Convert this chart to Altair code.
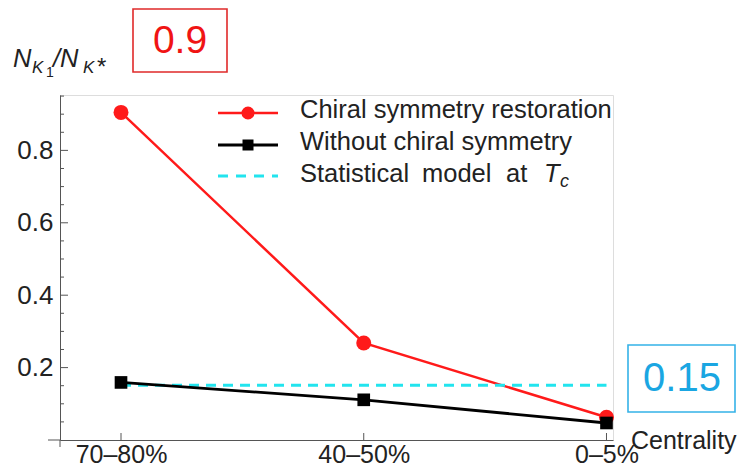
import altair as alt
import pandas as pd

# ---- data ----
categories = ["70–80%", "40–50%", "0–5%"]
chiral_restoration = [0.905, 0.268, 0.063]
without_chiral = [0.159, 0.111, 0.047]
statistical_tc = 0.151
y_major_ticks = [0.2, 0.4, 0.6, 0.8]
y_minor_ticks = [0.05, 0.1, 0.15, 0.25, 0.3, 0.35, 0.45, 0.5, 0.55, 0.65, 0.7, 0.75, 0.85, 0.9, 0.95]

FONT = "Liberation Sans"
RED = "#ff1a1a"
CYAN = "#22e4ee"
AXC = "#555555"
FS = 25.5

idx = list(range(len(categories)))
df = pd.DataFrame({"idx": idx, "cat": categories,
                   "chiral": chiral_restoration, "without": without_chiral})
df_stat = pd.DataFrame({"x0": [idx[0]], "x1": [idx[-1]], "y": [statistical_tc]})
df_major = pd.DataFrame({"v": y_major_ticks})
df_minor = pd.DataFrame({"v": y_minor_ticks})
one = pd.DataFrame({"a": [0]})

label_expr = "[" + ",".join("'" + c + "'" for c in categories) + "][datum.value]"

xscale = alt.Scale(domain=[-0.2513, 2.0268], nice=False, zero=False)
yscale = alt.Scale(domain=[0, 0.953], nice=False, zero=False)

X = alt.X("idx:Q", scale=xscale,
          axis=alt.Axis(values=idx, labelExpr=label_expr, ticks=False, grid=False,
                        title=None, labelFontSize=25, labelBaseline="alphabetic",
                        labelPadding=22, labelColor="#222",
                        labelFont=FONT, domainColor=AXC, domainWidth=1))
Y = alt.Y("chiral:Q", scale=yscale,
          axis=alt.Axis(values=y_major_ticks, format=".1f", ticks=False, grid=False,
                        title=None, labelFontSize=26, labelPadding=7, labelColor="#222",
                        labelFont=FONT, domainColor=AXC, domainWidth=1))

base = alt.Chart(df)

stat_line = alt.Chart(df_stat).mark_rule(color=CYAN, strokeWidth=3, strokeDash=[10, 7]).encode(
    x=alt.X("x0:Q", scale=xscale), x2="x1:Q", y=alt.Y("y:Q", scale=yscale))

red_line = base.mark_line(color=RED, strokeWidth=2.5).encode(x=X, y=Y)
red_pts = base.mark_point(shape="circle", filled=True, color=RED, size=225, opacity=1).encode(
    x="idx:Q", y="chiral:Q")
blk_line = base.mark_line(color="black", strokeWidth=2.8).encode(x="idx:Q", y=alt.Y("without:Q", scale=yscale))
blk_pts = base.mark_point(shape="square", filled=True, color="black", size=160, opacity=1).encode(
    x="idx:Q", y="without:Q")

ymaj = alt.Chart(df_major).mark_rule(color=AXC, strokeWidth=1).encode(
    y=alt.Y("v:Q", scale=yscale), x=alt.value(0), x2=alt.value(8))
ymin = alt.Chart(df_minor).mark_rule(color=AXC, strokeWidth=1).encode(
    y=alt.Y("v:Q", scale=yscale), x=alt.value(0), x2=alt.value(4))
xt = base.mark_rule(color=AXC, strokeWidth=1).encode(
    x="idx:Q", y=alt.value(338), y2=alt.value(345))
xext = alt.Chart(one).mark_rule(color=AXC, strokeWidth=1).encode(
    x=alt.value(-12), x2=alt.value(0), y=alt.value(345))
yext = alt.Chart(one).mark_rule(color=AXC, strokeWidth=1).encode(
    x=alt.value(0), y=alt.value(345), y2=alt.value(352))

def txt(s, x, y, size, color="#222", style="normal", align="left", baseline="alphabetic"):
    return alt.Chart(one).mark_text(text=s, font=FONT, fontSize=size, fontStyle=style,
                                    color=color, align=align, baseline=baseline).encode(
        x=alt.value(x), y=alt.value(y))

# legend
leg = [
    alt.Chart(one).mark_rule(color=RED, strokeWidth=2.5).encode(x=alt.value(158), x2=alt.value(218), y=alt.value(18)),
    alt.Chart(one).mark_point(shape="circle", filled=True, color=RED, size=170, opacity=1).encode(x=alt.value(188), y=alt.value(18)),
    txt("Chiral symmetry restoration", 240, 23, FS),
    alt.Chart(one).mark_rule(color="black", strokeWidth=2.8).encode(x=alt.value(158), x2=alt.value(218), y=alt.value(50)),
    alt.Chart(one).mark_point(shape="square", filled=True, color="black", size=121, opacity=1).encode(x=alt.value(188), y=alt.value(50)),
    txt("Without chiral symmetry", 240, 55, FS),
    alt.Chart(one).mark_rule(color=CYAN, strokeWidth=3, strokeDash=[10, 8]).encode(x=alt.value(158), x2=alt.value(218), y=alt.value(81)),
    txt("Statistical", 240, 87, FS),
    txt("model", 362, 87, FS),
    txt("at", 446, 87, FS),
    txt("T", 484, 87, FS, style="italic"),
    txt("c", 500, 92, 18, style="italic"),
]

# y-axis title N_{K_1}/N_{K*}
ytitle = [
    txt("N", -47, -28, FS, style="italic"),
    txt("K", -28, -22, 17, style="italic"),
    txt("1", -14, -18, 14),
    txt("/N", -7, -28, FS, style="italic"),
    txt("K", 23, -22, 17, style="italic"),
    txt("*", 37, -20, 24),
]

centr = txt("Centrality", 571, 354, 25)

# annotation boxes
box09 = alt.Chart(one).mark_rect(fill=None, stroke="#e02a2a", strokeWidth=1.6).encode(
    x=alt.value(73), x2=alt.value(167), y=alt.value(-86), y2=alt.value(-23))
t09 = txt("0.9", 120, -54, 39, color="#f01414", align="center", baseline="middle")
box015 = alt.Chart(one).mark_rect(fill=None, stroke="#35b2e8", strokeWidth=1.6).encode(
    x=alt.value(568), x2=alt.value(675), y=alt.value(250), y2=alt.value(317))
t015 = txt("0.15", 622, 284, 40, color="#1aa6e2", align="center", baseline="middle")

chart = alt.layer(
    red_line, stat_line, red_pts, blk_line, blk_pts,
    ymaj, ymin, xt, xext, yext,
    *leg, *ytitle, centr, box09, t09, box015, t015,
).properties(
    width=553, height=345,
    padding={"left": 52, "top": 87, "right": 124, "bottom": 26},
    autosize=alt.AutoSizeParams(type="none"),
).configure_view(stroke=None).configure(background="white")

chart.save("out.html", embed_options={"renderer": "svg", "actions": False})
